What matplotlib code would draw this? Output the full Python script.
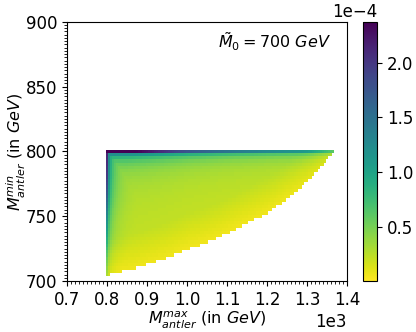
import numpy as np
import matplotlib
matplotlib.use("Agg")
import matplotlib.pyplot as plt
from matplotlib.ticker import MultipleLocator, ScalarFormatter
from matplotlib.colors import Normalize

# ---- values (GeV, density in 1e-4) ----
bound_x = [800, 865, 949, 1000, 1032, 1074, 1116, 1157, 1199, 1241, 1283, 1324, 1349, 1365]
bound_y = [705, 710, 718, 725, 728, 733, 739.6, 746, 752.5, 761.5, 771.8, 784.6, 793.6, 800]
top_x = [800, 850, 900, 950, 1000, 1100, 1200, 1300, 1365]
top_v = [2.37, 2.3, 2.1, 1.85, 1.6, 1.3, 1.1, 0.95, 0.6]
left_y = [705, 720, 735, 750, 765, 780, 800]
left_v = [0.3, 0.5, 0.8, 1.1, 1.5, 1.8, 2.0]
base_v = 0.16
x_ticks = [700, 800, 900, 1000, 1100, 1200, 1300, 1400]
y_ticks = [700, 750, 800, 850, 900]
label_text = r"$\tilde{M}_0 = 700\ GeV$"

# grid of cells
x_edges = np.arange(797.5, 1370.0, 5.0)
y_edges = 801.25 - 2.5 * np.arange(41)[::-1]
xc = 0.5 * (x_edges[:-1] + x_edges[1:])
yc = 0.5 * (y_edges[:-1] + y_edges[1:])
X, Y = np.meshgrid(xc, yc)

T = np.interp(X, top_x, top_v)
L = np.interp(Y, left_y, left_v)
dy = 801.25 - Y
dx = X - 797.5
tterm = T * (2.0 / (dy - 1.25 + 2.0))
lterm = L * (6.0 / (dx - 2.5 + 6.0))
ymin = np.interp(X, bound_x, bound_y)
fade = np.clip((Y - ymin + 3.0) / 30.0, 0.1, 1.0)
Z = (np.maximum(tterm, lterm) + base_v * fade) * 1e-4
Z = np.ma.masked_where(Y < ymin - 0.5, Z)

fig = plt.figure(figsize=(4.16, 3.32), dpi=100)
ax = fig.add_axes([0.161, 0.1536, 0.673, 0.781])
cax = fig.add_axes([0.873, 0.1536, 0.0337, 0.781])

norm = Normalize(vmin=0.003e-4, vmax=2.375e-4)
mesh = ax.pcolormesh(x_edges, y_edges, Z, cmap="viridis_r", norm=norm)

ax.set_xlim(700, 1400)
ax.set_ylim(700, 900)
ax.set_xticks(x_ticks)
ax.set_yticks(y_ticks)
ax.xaxis.set_minor_locator(MultipleLocator(10))
ax.yaxis.set_minor_locator(MultipleLocator(2.5))
ax.ticklabel_format(axis="x", style="sci", scilimits=(0, 0))
ax.tick_params(labelsize=12)
ax.xaxis.get_offset_text().set_fontsize(12)
ax.set_xlabel(r"$M_{antler}^{max}$ (in $GeV$)", fontsize=11.5, labelpad=1)
ax.set_ylabel(r"$M_{antler}^{min}$ (in $GeV$)", fontsize=11.5, labelpad=-1.5)
ax.text(0.742, 0.924, label_text, transform=ax.transAxes, ha="center", va="center", fontsize=11.5)

cb = fig.colorbar(mesh, cax=cax)
fmt = ScalarFormatter()
fmt.set_powerlimits((0, 0))
cb.formatter = fmt
cb.update_ticks()
cb.ax.tick_params(labelsize=12)
cb.ax.yaxis.get_offset_text().set_visible(False)
fig.text(377 / 416, 1 - 21 / 332, "1e\u22124", ha="right", va="bottom", fontsize=12)

fig.savefig("out.png", dpi=100)
